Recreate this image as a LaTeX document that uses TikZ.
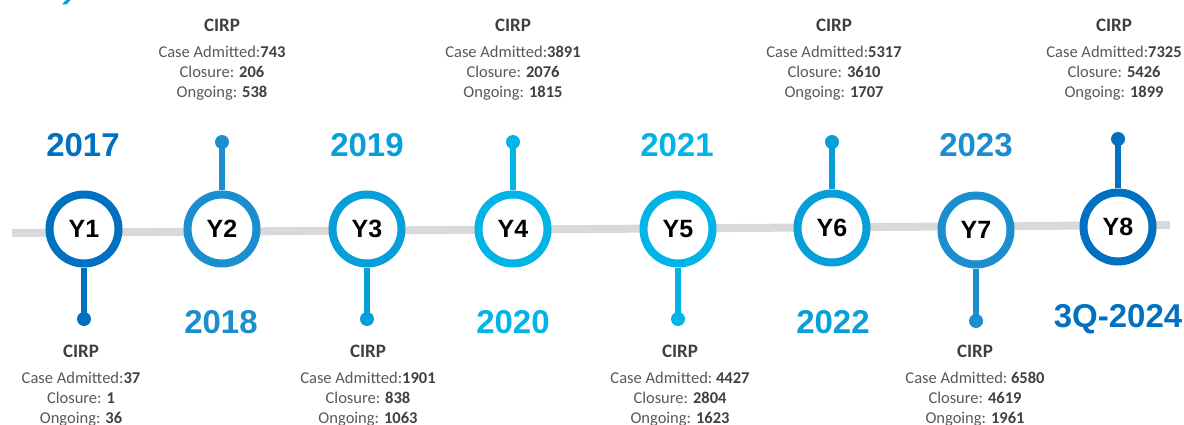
\documentclass[tikz,border=0pt]{standalone}
\usepackage{fontspec}
\setmainfont{Carlito}
\newfontfamily\arialfont{Liberation Sans}
\usetikzlibrary{calc}

\definecolor{blueA}{RGB}{0,112,192}
\definecolor{blueB}{RGB}{27,142,207}
\definecolor{blueC}{RGB}{7,159,218}
\definecolor{blueD}{RGB}{0,180,232}
\definecolor{trackgrey}{RGB}{217,217,217}
\definecolor{headgrey}{RGB}{64,64,64}
\definecolor{bodygrey}{RGB}{89,89,89}

% bold figure inside the statistics lines
\newcommand\nb[1]{\textcolor{headgrey}{\bfseries #1}}

% CIRP heading plus three statistics lines
% #1 prefix, #2 x, #3 heading baseline, #4 admitted, #5 closure, #6 ongoing
\newcommand\cirpblock[6]{%
  \node[cirphead] (#1h) at (#2,#3) {CIRP};
  \node[statline] (#1a) at (#2,#3+26) {Case Admitted:#4};
  \node[statline] (#1c) at (#2,#3+46) {Closure: \nb{#5}};
  \node[statline] (#1o) at (#2,#3+66) {Ongoing: \nb{#6}};
}

\tikzset{
  track/.style={draw=trackgrey, line width=8pt},
  yearring/.style={circle, draw=#1, line width=8pt, fill=white,
    minimum size=69pt, inner sep=0pt, text=black,
    font=\arialfont\bfseries\fontsize{25}{25}\selectfont},
  stem/.style={draw=#1, line width=6pt},
  pin/.style={circle, fill=#1, minimum size=14pt, inner sep=0pt},
  yearlabel/.style={anchor=base, text=#1, inner sep=0pt,
    font=\arialfont\bfseries\fontsize{33}{33}\selectfont},
  cirphead/.style={anchor=base, text=headgrey, inner sep=0pt,
    font=\bfseries\fontsize{19}{19}\selectfont},
  statline/.style={anchor=base, text=bodygrey, inner sep=0pt,
    font=\fontsize{16.5}{16.5}\selectfont},
}

\begin{document}
\begin{tikzpicture}[x=1pt,y=-1pt]
\useasboundingbox (0,0) rectangle (1184,425);

% tail of the heading letter cut by the top edge
\fill[blueC] (62,4.5) -- (66.5,4.5) -- (71.5,-1) -- (67,-1) -- cycle;

% grey track
\coordinate (trackL) at (12,233);
\coordinate (trackR) at (1170,225);
\draw[track] (trackL) -- (trackR);

% year rings
\node[yearring=blueA] (y1) at (84,229)   {Y1};
\node[yearring=blueB] (y2) at (222,229)  {Y2};
\node[yearring=blueC] (y3) at (367,229)  {Y3};
\node[yearring=blueD] (y4) at (513,229)  {Y4};
\node[yearring=blueD] (y5) at (678,229)  {Y5};
\node[yearring=blueC] (y6) at (832,228)  {Y6};
\node[yearring=blueB] (y7) at (976,230)  {Y7};
\node[yearring=blueA] (y8) at (1118,227) {Y8};

% pins
\node[pin=blueA] (p1) at (84,319)   {};
\node[pin=blueB] (p2) at (222,142)  {};
\node[pin=blueC] (p3) at (367,319)  {};
\node[pin=blueD] (p4) at (513,142)  {};
\node[pin=blueD] (p5) at (678,319)  {};
\node[pin=blueC] (p6) at (832,142)  {};
\node[pin=blueB] (p7) at (976,321)  {};
\node[pin=blueA] (p8) at (1118,139) {};

% stems
\draw[stem=blueA] (y1.south) -- (p1.center);
\draw[stem=blueB] (y2.north) -- (p2.center);
\draw[stem=blueC] (y3.south) -- (p3.center);
\draw[stem=blueD] (y4.north) -- (p4.center);
\draw[stem=blueD] (y5.south) -- (p5.center);
\draw[stem=blueC] (y6.north) -- (p6.center);
\draw[stem=blueB] (y7.south) -- (p7.center);
\draw[stem=blueA] (y8.north) -- (p8.center);

% year labels
\node[yearlabel=blueA] (yr1) at (83,157)   {2017};
\node[yearlabel=blueB] (yr2) at (221,333)  {2018};
\node[yearlabel=blueC] (yr3) at (367,157)  {2019};
\node[yearlabel=blueD] (yr4) at (513,333)  {2020};
\node[yearlabel=blueD] (yr5) at (677,157)  {2021};
\node[yearlabel=blueC] (yr6) at (833,333)  {2022};
\node[yearlabel=blueB] (yr7) at (976,157)  {2023};
\node[yearlabel=blueA] (yr8) at (1118,327) {3Q-2024};

% statistics
\cirpblock{b1}{81}{357}{\nb{37}}{1}{36}
\cirpblock{b2}{222}{32}{\nb{743}}{206}{538}
\cirpblock{b3}{368}{357}{\nb{1901}}{838}{1063}
\cirpblock{b4}{513}{32}{\nb{3891}}{2076}{1815}
\cirpblock{b5}{680}{357}{\ \nb{4427}}{2804}{1623}
\cirpblock{b6}{834}{32}{\nb{5317}}{3610}{1707}
\cirpblock{b7}{975}{357}{\ \nb{6580}}{4619}{1961}
\cirpblock{b8}{1114}{32}{\nb{7325}}{5426}{1899}
\end{tikzpicture}
\end{document}
